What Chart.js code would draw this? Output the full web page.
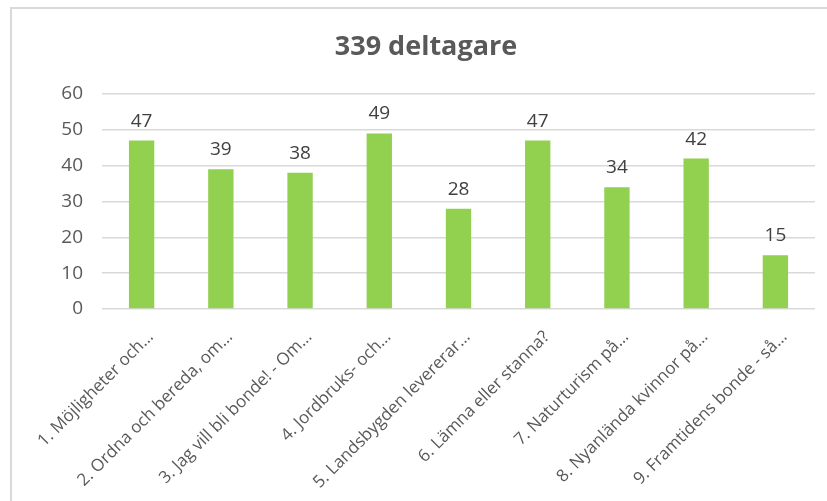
<!DOCTYPE html>
<html>
<head>
<meta charset="utf-8">
<script src="https://cdn.jsdelivr.net/npm/chart.js@4.4.0/dist/chart.umd.min.js"></script>
<style>
  html, body { margin: 0; padding: 0; background: #fff; overflow: hidden; }
  #wrap { position: relative; width: 827px; height: 501px; }
  #frame {
    position: absolute; left: 10px; top: 7px; width: 900px; height: 600px;
    border-top: 2px solid #d9d9d9; border-left: 2px solid #d9d9d9;
  }
  canvas { position: absolute; left: 0; top: 0; }
</style>
</head>
<body>
<div id="wrap">
  <div id="frame"></div>
  <canvas id="deltagareChart" width="827" height="501"></canvas>
</div>
<script>
const categories = [
  '1. Möjligheter och…',
  '2. Ordna och bereda, om…',
  '3. Jag vill bli bonde! - Om…',
  '4. Jordbruks- och…',
  '5. Landsbygden levererar…',
  '6. Lämna eller stanna?',
  '7. Naturturism på…',
  '8. Nyanlända kvinnor på…',
  '9. Framtidens bonde - så…'
]
const deltagare = [47, 39, 38, 49, 28, 47, 34, 42, 15]
const yTicks = [0, 10, 20, 30, 40, 50, 60]

const fontFamily = '"Open Sans", sans-serif'

// värdena ovanför staplarna
const valueLabels = {
  id: 'valueLabels',
  afterDatasetsDraw(chart) {
    const ctx = chart.ctx
    const meta = chart.getDatasetMeta(0)
    ctx.save()
    ctx.font = '19px ' + fontFamily
    ctx.fillStyle = '#404040'
    ctx.textAlign = 'center'
    ctx.textBaseline = 'alphabetic'
    meta.data.forEach((bar, i) => {
      ctx.fillText(String(deltagare[i]), bar.x, bar.y - 14)
    })
    ctx.restore()
  }
}

const ctx = document.getElementById('deltagareChart').getContext('2d')

const deltagareChart = new Chart(ctx, {
  type: 'bar',
  data: {
    labels: categories,
    datasets: [{
      label: 'Deltagare',
      data: deltagare,
      backgroundColor: '#92D050',
      borderWidth: 0,
      categoryPercentage: 1,
      barPercentage: 0.32
    }]
  },
  options: {
    responsive: false,
    animation: false,
    layout: {
      padding: { left: 37, right: 12, top: 0, bottom: 0 }
    },
    plugins: {
      legend: { display: false },
      tooltip: { enabled: false },
      title: {
        display: true,
        text: '339 deltagare',
        color: '#595959',
        font: { family: fontFamily, size: 27, weight: 'bold', lineHeight: 1.2 },
        padding: { top: 31, bottom: 30.6 }
      }
    },
    scales: {
      x: {
        grid: { display: false },
        border: { display: false },
        ticks: {
          color: '#595959',
          font: { family: fontFamily, size: 17 },
          minRotation: 45,
          maxRotation: 45,
          autoSkip: false,
          padding: 10,
          labelOffset: 9
        },
        afterFit(scale) { scale.height = 192 }
      },
      y: {
        min: 0,
        max: 60,
        afterBuildTicks(scale) {
          scale.ticks = yTicks.map(v => ({ value: v }))
        },
        grid: { color: '#d9d9d9', lineWidth: 1.5, drawTicks: false },
        border: { display: false },
        ticks: {
          color: '#595959',
          font: { family: fontFamily, size: 19 },
          padding: 19
        },
        afterFit(scale) { scale.width = 65 }
      }
    }
  },
  plugins: [valueLabels]
})
</script>
</body>
</html>
